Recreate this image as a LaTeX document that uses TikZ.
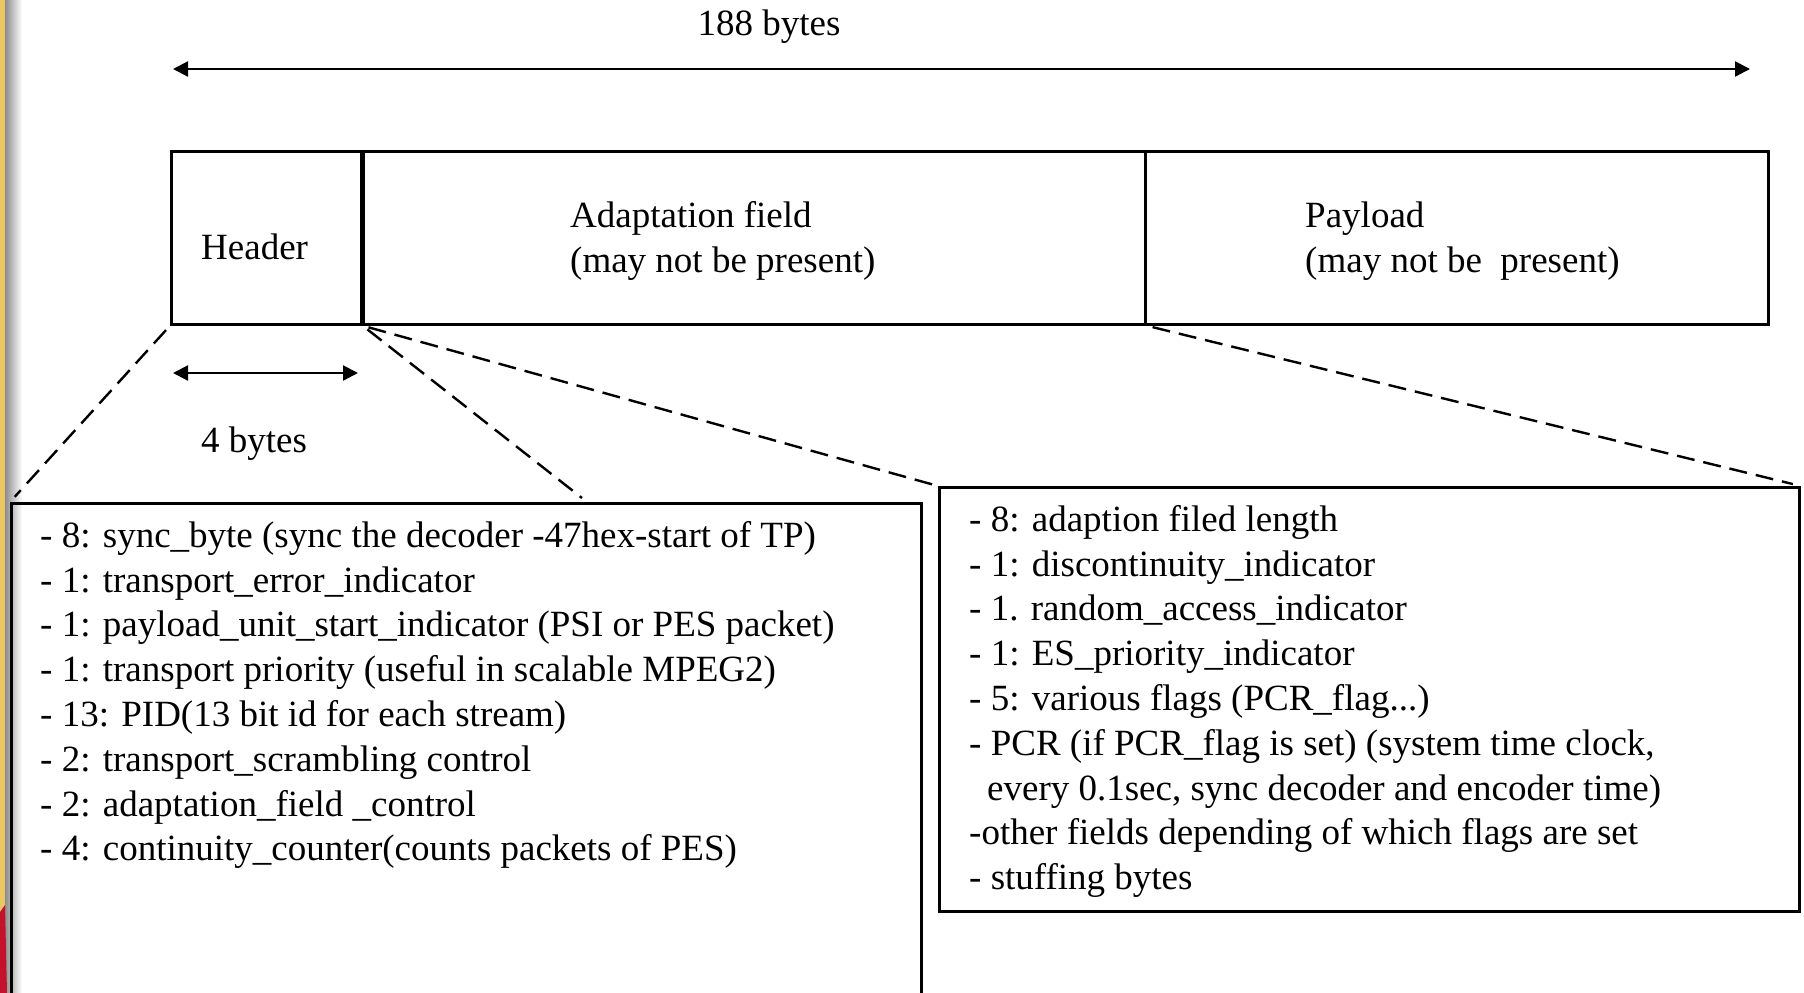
\documentclass[tikz,border=0pt]{standalone}
\usepackage{fontspec}
\setmainfont{Liberation Serif}
\usetikzlibrary{arrows.meta}
\definecolor{slidegold}{RGB}{236,198,98}
\definecolor{slidered}{RGB}{196,18,44}
\begin{document}
\begin{tikzpicture}[x=1pt,y=-1pt,
  txt/.style={inner sep=0pt, font=\fontsize{37}{44.8}\selectfont},
  fieldbox/.style={draw, line width=2.7pt, inner sep=0pt, anchor=north west},
  dimarrow/.style={line width=2.2pt, {Triangle[length=15pt,width=15pt]}-{Triangle[length=15pt,width=15pt]}},
  zoomline/.style={line width=2.4pt, dash pattern=on 18pt off 9pt}]
\useasboundingbox (0,0) rectangle (1804,993);
\clip (0,0) rectangle (1804,993);
% slide background strip
\fill[white] (0,0) rectangle (1804,993);
\fill[slidegold] (0,0) rectangle (5,993);
\shade[left color=black!45, right color=white] (5,0) rectangle (22,993);
\fill[slidered] (0,912) -- (5,905) -- (7,993) -- (0,993) -- cycle;

% packet fields
\node[fieldbox, minimum width=190pt, minimum height=173pt] (hdr) at (170,150) {};
\node[fieldbox, minimum width=784pt, minimum height=173pt] (adapt) at (360,150) {};
\node[fieldbox, minimum width=623pt, minimum height=173pt] (pay) at (1144,150) {};
\draw[line width=4.5pt] (hdr.north east) -- (hdr.south east);

\node[txt, anchor=base west] (thdr) at (201,259) {Header};
\node[txt, anchor=base west] (taf1) at (570,227) {Adaptation field};
\node[txt, anchor=base west] (taf2) at (570,272) {(may not be present)};
\node[txt, anchor=base west] (tpl1) at (1305,227) {Payload};
\node[txt, anchor=base west] (tpl2) at (1305,272) {(may not be\ \ present)};

% dimension arrows
\coordinate (t1) at (173,69);
\coordinate (t2) at (1750,69);
\draw[dimarrow] (t1) -- (t2);
\node[txt, anchor=base] (t188) at (769,35) {188 bytes};
\coordinate (f1) at (173,373);
\coordinate (f2) at (358,373);
\draw[dimarrow] (f1) -- (f2);
\node[txt, anchor=base west] (t4) at (201,452) {4 bytes};

% detail boxes
\node[fieldbox, minimum width=910pt, minimum height=600pt] (lbox) at (10,502) {};
\node[fieldbox, minimum width=860pt, minimum height=424pt] (rbox) at (938,486) {};

\node[txt, anchor=north west, align=left] (ltext) at (40,521) {%
- 8: sync\_byte (sync the decoder -47hex-start of TP)\\
- 1: transport\_error\_indicator\\
- 1: payload\_unit\_start\_indicator (PSI or PES packet)\\
- 1: transport priority (useful in scalable MPEG2)\\
- 13: PID(13 bit id for each stream)\\
- 2: transport\_scrambling control\\
- 2: adaptation\_field \_control\\
- 4: continuity\_counter(counts packets of PES)};

\node[txt, anchor=north west, align=left] (rtext) at (969,505) {%
- 8: adaption filed length\\
- 1: discontinuity\_indicator\\
- 1. random\_access\_indicator\\
- 1: ES\_priority\_indicator\\
- 5: various flags (PCR\_flag...)\\
- PCR (if PCR\_flag is set) (system time clock,\\
\hspace*{18pt}every 0.1sec, sync decoder and encoder time)\\
-other fields depending of which flags are set\\
- stuffing bytes};

% zoom lines
\coordinate (d2e) at (582,498);
\draw[zoomline, shorten <=6pt, shorten >=7pt] (hdr.south west) -- (lbox.north west);
\draw[zoomline, shorten <=6pt] (hdr.south east) -- (d2e);
\draw[zoomline, shorten <=6pt, shorten >=5pt] (hdr.south east) -- (rbox.north west);
\draw[zoomline, shorten <=6pt, shorten >=8pt] (adapt.south east) -- (rbox.north east);
\end{tikzpicture}
\end{document}
